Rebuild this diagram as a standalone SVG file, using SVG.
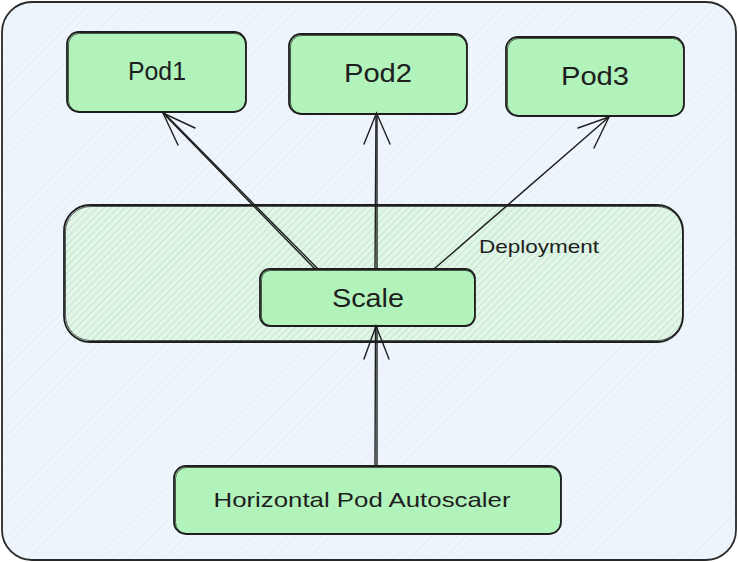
<svg xmlns="http://www.w3.org/2000/svg" width="738" height="562" viewBox="0 0 738 562">
<defs>
<pattern id="bgh" width="6" height="6" patternUnits="userSpaceOnUse" patternTransform="rotate(45)">
<rect width="6" height="6" fill="#eff5fc"/>
<line x1="0" y1="0" x2="0" y2="6" stroke="#e4edf8" stroke-width="1.5"/>
</pattern>
<pattern id="dh" width="5" height="5" patternUnits="userSpaceOnUse" patternTransform="rotate(45)">
<rect width="5" height="5" fill="#e3f4e8"/>
<line x1="0" y1="0" x2="0" y2="5" stroke="#ace3b8" stroke-width="1.3"/>
</pattern>
</defs>
<style>
.node{fill:#b2f2bb;stroke:#1e1e1e;stroke-width:1.8}
.sk{fill:none;stroke:#1e1e1e;stroke-width:0.9;opacity:0.8}
.lbl{font-family:"Liberation Sans","DejaVu Sans",sans-serif;fill:#1e1e1e;text-anchor:middle}
.conn line,.conn path{stroke:#1e1e1e;stroke-width:1.4;fill:none;stroke-linecap:round}
</style>
<rect width="738" height="562" fill="#ffffff"/>
<g id="frame">
<rect x="2" y="2" width="734" height="558" rx="30" fill="url(#bgh)" stroke="#2a2a2a" stroke-width="1.8"/>
</g>
<g id="deployment">
<rect x="64" y="205" width="619" height="137" rx="26" fill="url(#dh)" stroke="#1e1e1e" stroke-width="1.8"/>
<rect x="65.5" y="206.5" width="617" height="134" rx="25" class="sk"/>
<text x="539" y="253" class="lbl" font-size="19" textLength="120" lengthAdjust="spacingAndGlyphs">Deployment</text>
</g>
<g id="pod1">
<rect x="67" y="32" width="179" height="80" rx="12" class="node"/>
<rect x="68.5" y="33.5" width="177" height="78" rx="11" class="sk"/>
<text x="157" y="80" class="lbl" font-size="25" textLength="58" lengthAdjust="spacingAndGlyphs">Pod1</text>
</g>
<g id="pod2">
<rect x="289" y="34" width="178" height="80" rx="12" class="node"/>
<rect x="290.5" y="35.5" width="176" height="78" rx="11" class="sk"/>
<text x="378" y="82" class="lbl" font-size="25" textLength="68" lengthAdjust="spacingAndGlyphs">Pod2</text>
</g>
<g id="pod3">
<rect x="506" y="37" width="178" height="79" rx="12" class="node"/>
<rect x="507.5" y="38.5" width="176" height="77" rx="11" class="sk"/>
<text x="595" y="85" class="lbl" font-size="25" textLength="68" lengthAdjust="spacingAndGlyphs">Pod3</text>
</g>
<g id="scale">
<rect x="260" y="269" width="215" height="57" rx="10" class="node"/>
<rect x="261.5" y="270.5" width="213" height="55" rx="9" class="sk"/>
<text x="368" y="307" class="lbl" font-size="25" textLength="72" lengthAdjust="spacingAndGlyphs">Scale</text>
</g>
<g id="hpa">
<rect x="174" y="466" width="387" height="68" rx="12" class="node"/>
<rect x="175.5" y="467.5" width="385" height="66" rx="11" class="sk"/>
<text x="362" y="507" class="lbl" font-size="21" textLength="297" lengthAdjust="spacingAndGlyphs">Horizontal Pod Autoscaler</text>
</g>
<g class="conn" id="connectors">
<line x1="315" y1="269" x2="163" y2="113"/>
<line x1="318" y1="269" x2="165" y2="114"/>
<path d="M178 145 L163 113 L195 128"/>
<line x1="375" y1="269" x2="376" y2="114"/>
<line x1="377" y1="269" x2="377" y2="114"/>
<path d="M364 144 L376.5 113 L390 144"/>
<line x1="434" y1="269" x2="609" y2="117"/>
<path d="M578 128 L609 117 L594 148"/>
<line x1="375" y1="466" x2="375.5" y2="327"/>
<line x1="377" y1="466" x2="377" y2="327"/>
<path d="M364 359 L376 326 L389 359"/>
</g>
</svg>
